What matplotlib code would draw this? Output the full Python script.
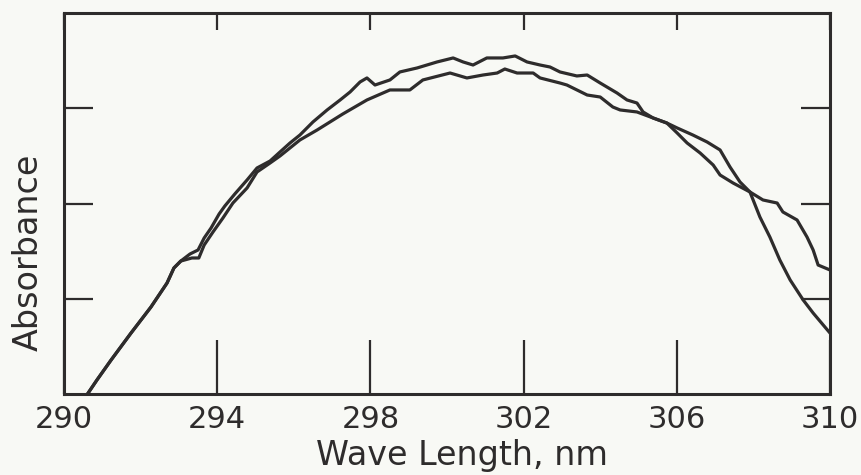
import matplotlib
matplotlib.use("Agg")
import matplotlib.pyplot as plt

# Curve A (higher peak, ends higher at 310 nm)
wl_a = [290.63, 290.86, 291.23, 291.75, 292.27, 292.69, 292.87, 293.05,
        293.29, 293.50, 293.66, 293.84, 294.05, 294.20, 294.46, 294.78, 295.04,
        295.38, 295.64, 295.90, 296.16, 296.50, 296.87, 297.21, 297.47, 297.73,
        297.91, 298.12, 298.51, 298.77, 299.22, 299.74, 300.16, 300.42, 300.68,
        301.04, 301.46, 301.78, 302.09, 302.43, 302.69, 302.95, 303.39, 303.66,
        304.00, 304.44, 304.70, 304.96, 305.12, 305.38, 305.74, 306.01, 306.27,
        306.61, 306.95, 307.13, 307.47, 307.91, 308.25, 308.62, 308.77, 309.14,
        309.40, 309.56, 309.69, 310.00]
abs_a = [0.01, 0.147, 0.357, 0.640, 0.913, 1.165, 1.323, 1.396,
         1.470, 1.512, 1.638, 1.743, 1.890, 1.974, 2.100, 2.247, 2.373,
         2.446, 2.541, 2.635, 2.719, 2.856, 2.982, 3.087, 3.171, 3.276,
         3.318, 3.244, 3.297, 3.381, 3.423, 3.486, 3.528, 3.486, 3.454,
         3.528, 3.528, 3.549, 3.486, 3.454, 3.433, 3.381, 3.339, 3.349,
         3.265, 3.160, 3.087, 3.055, 2.961, 2.898, 2.845, 2.740, 2.635,
         2.530, 2.404, 2.299, 2.215, 2.121, 2.037, 2.005, 1.911, 1.827,
         1.648, 1.512, 1.354, 1.302]

# Curve B (lower peak, ends lower at 310 nm)
wl_b = [290.63, 290.86, 291.23, 291.75, 292.27, 292.69, 292.87, 293.05,
        293.34, 293.52, 293.66, 293.89, 294.15, 294.41, 294.78, 295.04,
        295.38, 295.64, 295.90, 296.16, 296.61, 297.28, 297.91, 298.51,
        299.03, 299.37, 300.08, 300.52, 300.94, 301.31, 301.51, 301.83,
        302.25, 302.43, 302.95, 303.13, 303.66, 304.00, 304.33, 304.52,
        304.96, 305.38, 305.74, 306.01, 306.42, 306.79, 307.13, 307.39,
        307.65, 307.91, 308.17, 308.43, 308.69, 308.96, 309.30, 309.56, 310.00]
abs_b = [0.01, 0.147, 0.357, 0.640, 0.913, 1.165, 1.323, 1.396,
         1.428, 1.428, 1.564, 1.701, 1.848, 2.005, 2.163, 2.331,
         2.425, 2.499, 2.583, 2.667, 2.772, 2.940, 3.087, 3.192,
         3.192, 3.297, 3.370, 3.318, 3.349, 3.370, 3.412, 3.370,
         3.370, 3.318, 3.265, 3.244, 3.139, 3.118, 3.013, 2.982,
         2.961, 2.898, 2.845, 2.793, 2.719, 2.646, 2.562, 2.383,
         2.226, 2.121, 1.858, 1.648, 1.407, 1.197, 0.987, 0.850, 0.640]

x_ticks = [290, 294, 298, 302, 306, 310]
x_tick_labels = ["290", "294", "298", "302", "306", "310"]
y_ticks = [1, 2, 3]

ink = "#2e2c2c"
bg = "#f8f9f5"

fig = plt.figure(figsize=(8.62, 4.75), dpi=100, facecolor=bg)
ax = fig.add_axes([64/862, 1-394/475, 766/862, 381/475])
ax.set_facecolor(bg)

ax.plot(wl_a, abs_a, color=ink, lw=2.3, solid_joinstyle="round")
ax.plot(wl_b, abs_b, color=ink, lw=2.3, solid_joinstyle="round")

ax.set_xlim(290, 310)
ax.set_ylim(0, 4)
for s in ax.spines.values():
    s.set_color(ink)
    s.set_linewidth(2.2)

ax.set_xticks(x_ticks)
ax.set_xticklabels(x_tick_labels)
ax.tick_params(axis="x", direction="in", top=True, bottom=True, length=39,
               width=1.6, color=ink, labelsize=22, pad=8, labelcolor=ink)
for t in ax.xaxis.get_major_ticks():
    t.tick2line.set_markersize(12)

ax.set_yticks(y_ticks)
ax.set_yticklabels([])
ax.tick_params(axis="y", direction="in", left=True, right=True, length=21,
               width=1.6, color=ink)

fig.text(462/862, 1-455/475, "Wave Length, nm", ha="center", va="center",
         fontsize=24, color=ink)
fig.text(28/862, 1-252/475, "Absorbance", rotation=90, ha="center",
         va="center", fontsize=24, color=ink)

fig.savefig("out.png", dpi=100, facecolor=bg)
